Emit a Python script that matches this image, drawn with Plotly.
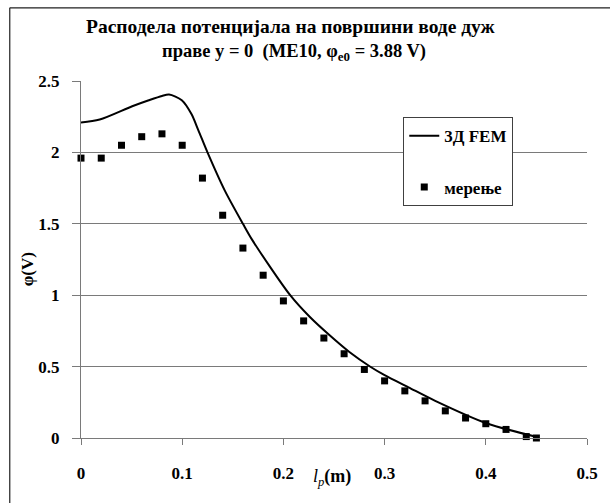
import plotly.graph_objects as go

# ---- data ----
fem_x = [0.0, 0.0185, 0.0506, 0.067, 0.08, 0.087, 0.0996, 0.109, 0.116, 0.125,
         0.142, 0.16, 0.169, 0.2067, 0.2262, 0.2457, 0.2652, 0.2863, 0.30,
         0.3236, 0.35, 0.40, 0.4486]
fem_y = [2.21, 2.23, 2.323, 2.365, 2.395, 2.405, 2.365, 2.27, 2.155, 2.00,
         1.734, 1.50, 1.389, 1.00, 0.847, 0.719, 0.602, 0.497, 0.44,
         0.355, 0.26, 0.105, 0.01]

meas_x = [0.0, 0.02, 0.04, 0.06, 0.08, 0.10, 0.12, 0.14, 0.16, 0.18, 0.20, 0.22,
          0.24, 0.26, 0.28, 0.30, 0.32, 0.34, 0.36, 0.38, 0.40, 0.42, 0.44, 0.45]
meas_y = [1.96, 1.96, 2.05, 2.11, 2.13, 2.05, 1.82, 1.56, 1.33, 1.14, 0.96, 0.82,
          0.70, 0.59, 0.48, 0.40, 0.33, 0.26, 0.19, 0.14, 0.10, 0.06, 0.01, 0.00]

series_names = ["3Д FEM", "мерење"]
x_ticks = [0, 0.1, 0.2, 0.3, 0.4, 0.5]
y_ticks = [0, 0.5, 1, 1.5, 2, 2.5]

FONT = "Liberation Serif, Times New Roman, Times, serif"
GRID = "#7a7a7a"

# figure fills the whole 610x503 window (body margin removed below)
W, H = 610, 503
L, R, T, B = 81, 596, 80.7, 437.7
pw, ph = R - L, B - T


def px(x):
    return (x - L) / pw


def py(y):
    return (B - y) / ph


fig = go.Figure()
fig.add_trace(go.Scatter(
    x=fem_x, y=fem_y, mode="lines", name=series_names[0],
    line=dict(color="black", width=2, shape="spline", smoothing=0.8),
    legendgroup="a", cliponaxis=False))
fig.add_trace(go.Scatter(
    x=meas_x, y=meas_y, mode="markers", name=series_names[1],
    marker=dict(symbol="square", size=7, color="black"),
    legendgroup="b", cliponaxis=False))

fig.update_layout(
    width=W, height=H,
    margin=dict(l=L, r=W - R, t=T, b=H - B, pad=0),
    paper_bgcolor="white", plot_bgcolor="white",
    font=dict(family=FONT, size=17, color="black"),
    showlegend=True,
    legend=dict(
        x=px(409), y=py(117), xanchor="left", yanchor="top",
        bgcolor="white", bordercolor="#404040", borderwidth=1,
        font=dict(family=FONT, size=17, color="black", weight="bold"),
        tracegroupgap=26,
    ),
)

fig.update_xaxes(
    range=[0, 0.5], tickvals=x_ticks, ticktext=[f"<b>{v:g}</b>" for v in x_ticks],
    showgrid=False, zeroline=False, showline=True, linecolor=GRID, linewidth=1,
    ticks="outside", ticklen=6, tickcolor=GRID, tickwidth=1,
    tickfont=dict(family=FONT, size=17),
    ticklabelstandoff=14,
)
fig.update_yaxes(
    range=[0, 2.5], tickvals=y_ticks, ticktext=[f"<b>{v:g}</b>" for v in y_ticks],
    showgrid=True, gridcolor=GRID, gridwidth=1,
    zeroline=False, showline=True, linecolor=GRID, linewidth=1,
    ticks="outside", ticklen=8, tickcolor=GRID, tickwidth=1,
    tickfont=dict(family=FONT, size=17),
    ticklabelstandoff=9,
)

# outer chart frame (left and top edges visible in the window)
fig.add_shape(type="line", xref="paper", yref="paper",
              x0=px(8.5), x1=px(8.5), y0=py(520), y1=py(7.5),
              line=dict(color="#202020", width=1.2))
fig.add_shape(type="line", xref="paper", yref="paper",
              x0=px(8.5), x1=px(620), y0=py(7.5), y1=py(7.5),
              line=dict(color="#202020", width=1.2))

# title (two lines)
fig.add_annotation(text="<b>Расподела потенцијала на површини воде дуж</b>",
                   xref="paper", yref="paper", x=px(295), y=py(26),
                   xanchor="center", yanchor="middle", showarrow=False,
                   font=dict(family=FONT, size=19.5, color="black"))
fig.add_annotation(text="<b>праве y = 0 \u00a0(ME10, φ<sub>e0</sub> = 3.88 V)</b>",
                   xref="paper", yref="paper", x=px(298), y=py(52),
                   xanchor="center", yanchor="middle", showarrow=False,
                   font=dict(family=FONT, size=18.5, color="black"))

# axis titles
fig.add_annotation(text="<b>φ(V)</b>", textangle=-90,
                   xref="paper", yref="paper", x=px(26), y=py(269),
                   xanchor="center", yanchor="middle", showarrow=False,
                   font=dict(family=FONT, size=17, color="black"))
fig.add_annotation(text="<i>l</i><sub><i>p</i></sub><b>(m)</b>",
                   xref="paper", yref="paper", x=px(336), y=py(477),
                   xanchor="center", yanchor="middle", showarrow=False,
                   font=dict(family=FONT, size=18, color="black"))

fig.write_html(
    "out.html",
    config={"displayModeBar": False},
    post_script="document.body.style.margin='0';document.body.style.overflow='hidden';",
)
